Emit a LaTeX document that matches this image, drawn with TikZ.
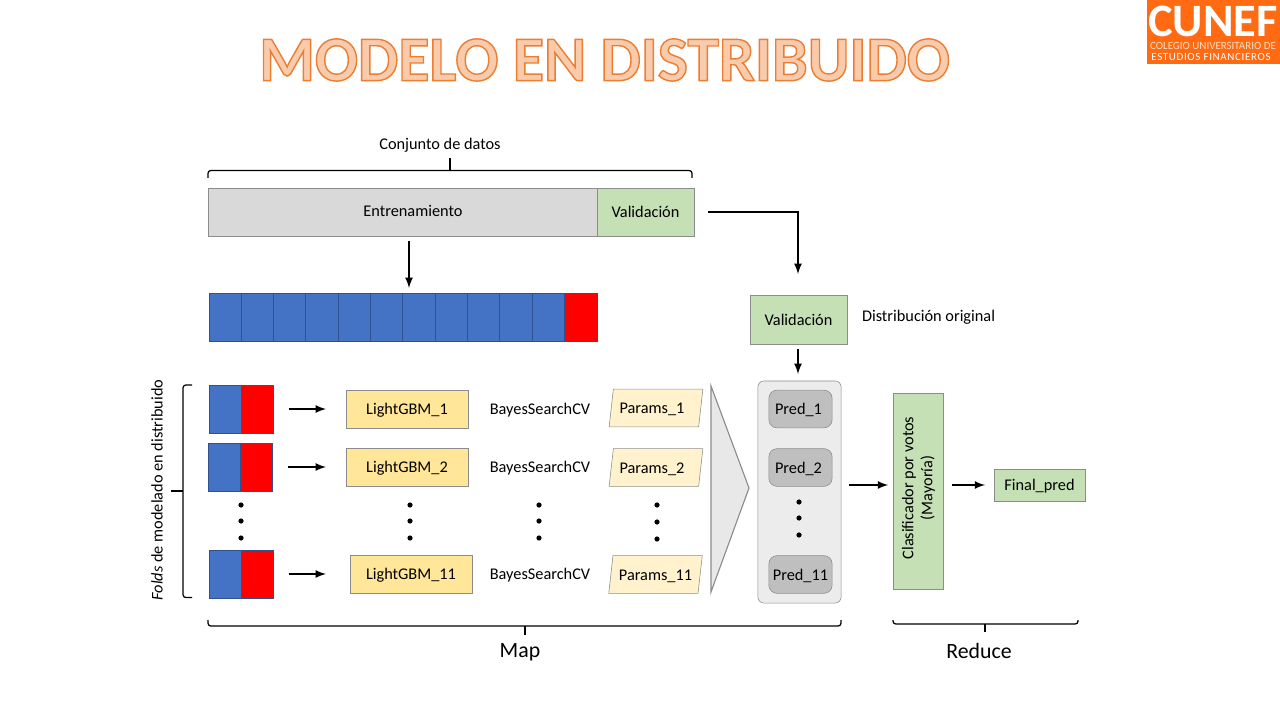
\documentclass[tikz,border=0pt]{standalone}
\usepackage{fontspec}
\setmainfont{Carlito}
\usetikzlibrary{shapes.geometric}
\definecolor{naranja}{HTML}{FF6A13}
\definecolor{titulofill}{HTML}{F8CBAD}
\definecolor{azul}{HTML}{4472C4}
\definecolor{azulborde}{HTML}{2F528F}
\definecolor{rojo}{HTML}{FF0000}
\definecolor{verde}{HTML}{C5E0B4}
\definecolor{amarillo}{HTML}{FFE699}
\definecolor{crema}{HTML}{FFF2CC}
\definecolor{borde}{HTML}{8C8C8C}
\newcommand{\titulotrazo}{\special{pdf:code 2 Tr 1 w 0.93 0.49 0.19 RG}}
\newcommand{\titulofin}{\special{pdf:code 0 Tr}}
\tikzset{
  box/.style={draw=borde, inner sep=0pt, outer sep=0pt, align=center, text height=8.5pt, text depth=0.5pt},
  greybox/.style={box, fill=gray!30},
  greenbox/.style={box, fill=verde},
  modelbox/.style={box, fill=amarillo, minimum width=3.05cm, minimum height=0.94cm},
  paramsbox/.style={box, fill=crema, trapezium, trapezium left angle=74, trapezium right angle=106,
                    trapezium stretches=true, minimum width=2.35cm, minimum height=0.94cm},
  predbox/.style={box, fill=gray!50, rounded corners=2mm, minimum width=1.58cm, minimum height=0.94cm},
  bluecell/.style={draw=azulborde, fill=azul, inner sep=0pt, outer sep=0pt, minimum width=0.81cm, minimum height=1.21cm},
  redcell/.style={bluecell, fill=rojo},
  punto/.style={circle, fill=black, inner sep=0pt, minimum size=1.3mm},
  flecha/.style={-latex, line width=1.5pt},
  llave/.style={line width=0.9pt, rounded corners=0.7mm},
  plain/.style={inner sep=0pt, outer sep=0pt},
}
\begin{document}
\begin{tikzpicture}[x=0.025cm, y=-0.025cm, font=\fontsize{11.6}{13.5}\selectfont]
    \useasboundingbox (0,0) rectangle (1280,720);

    % titulo y logo
    \node[plain, text=titulofill, font=\fontsize{45.4}{47}\selectfont\bfseries] (titulo) at (604.5,60)
      {\titulotrazo MODELO EN DISTRIBUIDO\titulofin};
    \node[plain, fill=naranja, minimum width=3.33cm, minimum height=1.6cm] (logo) at (1213.5,32) {};
    \node[plain, text=white, font=\fontsize{33}{33}\selectfont\bfseries] (cunef) at (1213,21) {CUNEF};
    \node[plain, text=orange!25, font=\fontsize{7.8}{8}\selectfont] (colegio) at (1213,46) {COLEGIO UNIVERSITARIO DE};
    \node[plain, text=white, font=\fontsize{7.8}{8}\selectfont\addfontfeature{LetterSpace=6}] (estudios) at (1211,57) {ESTUDIOS FINANCIEROS};

    % conjunto de datos
    \node[plain] (conjunto) at (440,145) {Conjunto de datos};
    \draw[llave] (208,178) -- (208,170.5) -- (692,170.5) -- (692,178);
    \draw[line width=0.9pt] (450,170.5) -- (450,158);
    \node[greybox, minimum width=9.725cm, minimum height=1.2cm] (entrena) at (402.5,212) {};
    \node[plain] (entrenatxt) at (413,211) {Entrenamiento};
    \node[greenbox, minimum width=2.425cm, minimum height=1.2cm] (valtop) at (645.5,212) {Validación};
    \coordinate (entrenaout) at (409,241);
    \coordinate (barin) at (409,288);
    \draw[flecha] (entrenaout) -- (barin);

    % barra de folds
    \node[bluecell] (b1) at (225,317.5) {};
    \node[bluecell] (b2) at (257.3,317.5) {};
    \node[bluecell] (b3) at (289.6,317.5) {};
    \node[bluecell] (b4) at (321.9,317.5) {};
    \node[bluecell] (b5) at (354.2,317.5) {};
    \node[bluecell] (b6) at (386.5,317.5) {};
    \node[bluecell] (b7) at (418.8,317.5) {};
    \node[bluecell] (b8) at (451.1,317.5) {};
    \node[bluecell] (b9) at (483.4,317.5) {};
    \node[bluecell] (b10) at (515.7,317.5) {};
    \node[bluecell] (b11) at (548,317.5) {};
    \node[redcell, draw=rojo] (b12) at (581,317.5) {};

    % validacion
    \node[greenbox, minimum width=2.425cm, minimum height=1.22cm] (valbox) at (798.5,319.5) {Validación};
    \node[plain, anchor=west] (distrib) at (862,317) {Distribución original};
    \coordinate (valout) at (708,212);
    \coordinate (valin) at (798,274);
    \draw[flecha] (valout) -| (valin);
    \coordinate (valdown) at (798,349);
    \coordinate (contin) at (798,374);
    \draw[flecha] (valdown) -- (contin);

    % filas de modelado
    \node[bluecell] (f1a) at (225,409) {};
    \node[redcell] (f1b) at (257.5,409) {};
    \node[bluecell] (f2a) at (224,467) {};
    \node[redcell] (f2b) at (256.5,467) {};
    \node[bluecell] (f3a) at (225,574) {};
    \node[redcell] (f3b) at (257.5,574) {};
    \node[modelbox] (lgbm1) at (407,409) {LightGBM\_1};
    \node[modelbox] (lgbm2) at (407,467) {LightGBM\_2};
    \node[modelbox] (lgbm3) at (411,574) {LightGBM\_11};
    \draw[flecha, shorten <=0.37cm, shorten >=0.5cm] (f1b) -- (lgbm1);
    \draw[flecha, shorten <=0.37cm, shorten >=0.5cm] (f2b) -- (lgbm2);
    \draw[flecha, shorten <=0.37cm, shorten >=0.6cm] (f3b) -- (lgbm3);
    \node[plain] (bayes1) at (540,410) {BayesSearchCV};
    \node[plain] (bayes2) at (540,468) {BayesSearchCV};
    \node[plain] (bayes3) at (540,575) {BayesSearchCV};
    \node[paramsbox] (par1) at (656,408) {Params\_1\hspace{2mm}};
    \node[paramsbox] (par2) at (656,467.5) {Params\_2\hspace{2mm}};
    \node[paramsbox] (par3) at (655.5,574.5) {Params\_11};

    % puntos
    \node[punto] (p1) at (241,505) {};
    \node[punto] (p2) at (241,521) {};
    \node[punto] (p3) at (241,538) {};
    \node[punto] (p4) at (410,505) {};
    \node[punto] (p5) at (410,521) {};
    \node[punto] (p6) at (410,538) {};
    \node[punto] (p7) at (539,505) {};
    \node[punto] (p8) at (539,521) {};
    \node[punto] (p9) at (539,538) {};
    \node[punto] (p10) at (657,505) {};
    \node[punto] (p11) at (657,522) {};
    \node[punto] (p12) at (657,539) {};

    % llave izquierda
    \draw[llave] (192,385) -- (183,385) -- (183,597.5) -- (192,597.5);
    \draw[line width=0.9pt] (171,491) -- (183,491);
    \node[plain, rotate=90] (foldstxt) at (157,490) {\textit{Folds} de modelado en distribuido};

    % triangulo y predicciones
    \fill[gray!18] (711,386) -- (749,488) -- (711,592) -- cycle;
    \draw[borde, line width=0.8pt] (711,592) -- (711,386) -- (749,488) -- cycle;
    \node[box, fill=gray!15, rounded corners=1.5mm, minimum width=2.08cm, minimum height=5.55cm] (cont) at (799.5,492) {};
    \node[predbox] (pred1) at (800.5,409) {Pred\_1\hspace{1mm}};
    \node[predbox] (pred2) at (800.5,467.5) {Pred\_2\hspace{1mm}};
    \node[predbox] (pred3) at (800.5,574.5) {Pred\_11};
    \node[punto] (p13) at (799,502) {};
    \node[punto] (p14) at (799,518) {};
    \node[punto] (p15) at (799,535) {};

    % clasificador
    \node[greenbox, minimum width=1.25cm, minimum height=4.9cm] (clasif) at (918,491) {};
    \node[plain, rotate=90, align=center] (clasiftxt) at (918.5,488) {Clasificador por votos\\(Mayoría)};
    \node[greenbox, minimum width=2.28cm, minimum height=0.8cm] (final) at (1039.5,485) {Final\_pred};
    \draw[flecha, shorten <=0.2cm, shorten >=0.12cm] (cont.east |- clasif.west) ++(0,-6) coordinate (contout) -- (clasif.west |- contout);
    \draw[flecha, shorten <=0.22cm, shorten >=0.22cm] (clasif.east |- final) -- (final.west);

    % map y reduce
    \draw[llave] (208,620) -- (208,626) -- (841,626) -- (841,620);
    \draw[line width=0.9pt] (525,626) -- (525,635);
    \node[plain, font=\fontsize{15.5}{16}\selectfont] (map) at (520,652) {Map};
    \draw[llave] (893,620) -- (893,624) -- (1078,624) -- (1078,620);
    \draw[line width=0.9pt] (985,624) -- (985,632);
    \node[plain, font=\fontsize{15.5}{16}\selectfont] (reduce) at (979,651) {Reduce};
\end{tikzpicture}
\end{document}
